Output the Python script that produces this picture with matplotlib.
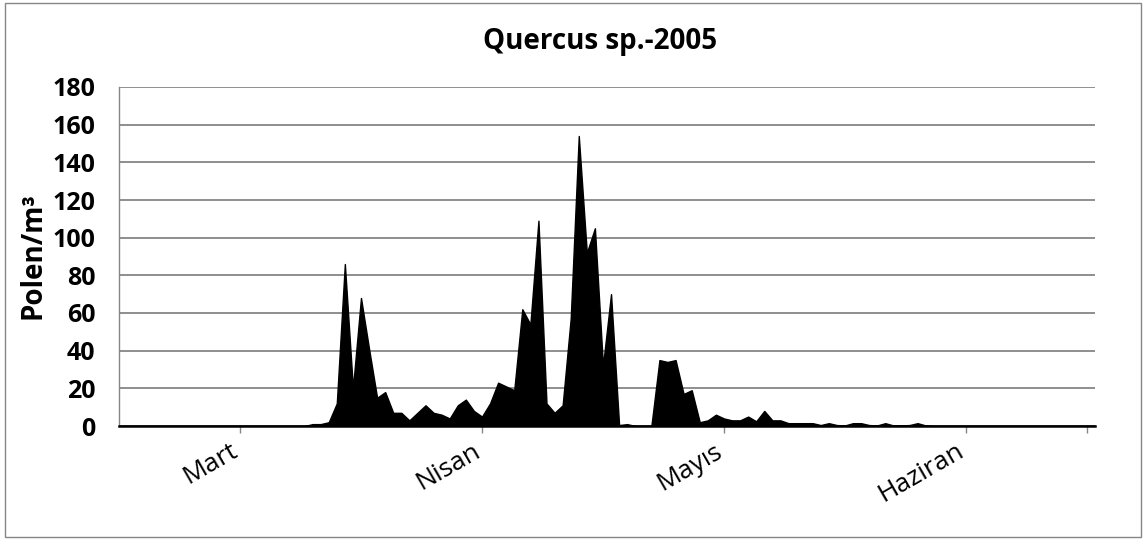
import matplotlib
matplotlib.use('Agg')
import matplotlib.pyplot as plt
import matplotlib.transforms as mtransforms
from matplotlib.patches import Rectangle
import numpy as np

plt.rcParams['font.family'] = ['Open Sans', 'DejaVu Sans']

title = 'Quercus sp.-2005'
y_label = 'Polen/m³'
month_labels = ['Mart', 'Nisan', 'Mayıs', 'Haziran']
month_ticks = [15, 45, 75, 105]
end_tick = 120
y_ticks = [0, 20, 40, 60, 80, 100, 120, 140, 160, 180]

# daily pollen counts, 1 March - 30 June
pollen = [0] * 23 + [
    0, 1, 1, 2, 12, 86, 20, 68, 41, 15,
    18, 7, 7, 3, 7, 11, 7, 6, 4, 11,
    14, 8, 5, 12, 23, 21, 19, 62, 54, 109,
    12, 7, 11, 57, 154, 92, 105, 32, 70, 0.5,
    1, 0, 0, 0, 35, 34, 35, 17, 19, 2,
    3, 6, 4, 3, 3, 5, 2.5, 8, 3, 3,
    1.5, 1.5, 1.5, 1.5, 0.5, 1.5, 0.5, 0.3, 1.5, 1.5,
    0.5, 0.3, 1.5, 0.3, 0.3, 0.5, 1.5, 0.3,
] + [0] * 21
days = np.arange(len(pollen))

fig = plt.figure(figsize=(11.47, 5.47), dpi=100)
ax = fig.add_axes([119/1147, 1 - 426/547, (1095 - 119)/1147, (426 - 87)/547])

ax.fill_between(days, pollen, color='black', edgecolor='black', linewidth=1.0, zorder=3)

ax.set_xlim(0, len(pollen) - 1)
ax.set_ylim(0, 180)
ax.set_yticks(y_ticks)
ax.set_yticklabels([str(v) for v in y_ticks], fontsize=18, fontweight='bold')
ax.tick_params(axis='y', length=0, pad=17)

ax.set_xticks(month_ticks + [end_tick])
ax.set_xticklabels(month_labels + [''], fontsize=19, rotation=30,
                   ha='right', va='top', rotation_mode='anchor')
ax.tick_params(axis='x', length=5, width=1, color='#868686', pad=4)
shift = mtransforms.ScaledTranslation(-10/100, 0, fig.dpi_scale_trans)
for lab in ax.get_xticklabels():
    lab.set_transform(lab.get_transform() + shift)

ax.grid(axis='y', color='#868686', linewidth=1.3, zorder=0)
ax.set_axisbelow(True)
for s in ['top', 'right']:
    ax.spines[s].set_visible(False)
ax.spines['left'].set_color('#868686')
ax.spines['left'].set_linewidth(1.0)
ax.spines['bottom'].set_color('black')
ax.spines['bottom'].set_linewidth(1.8)
ax.spines['bottom'].set_zorder(4)

fig.text(600/1147, 1 - 42/547, title, fontsize=20, fontweight='bold',
         ha='center', va='center')
fig.text(33/1147, 1 - 256/547, y_label, fontsize=20, fontweight='bold',
         rotation=90, ha='center', va='center')

fig.patches.append(Rectangle((5/1147, 1 - 537/547), 1136/1147, 534/547,
                             transform=fig.transFigure, fill=False,
                             edgecolor='#868686', linewidth=1.0))

fig.savefig('out.png', dpi=100)
